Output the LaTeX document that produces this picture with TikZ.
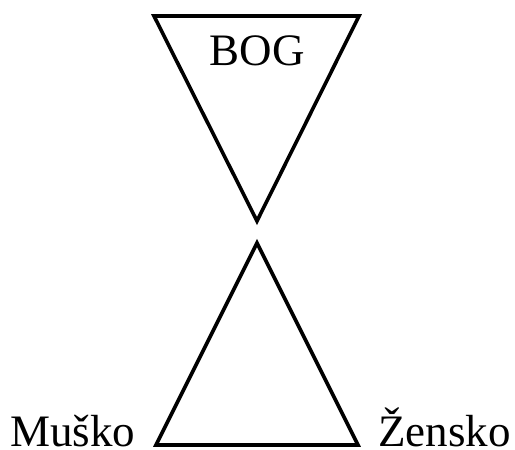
\documentclass[tikz,border=0pt]{standalone}
\usepackage{fontspec}
\setmainfont{Liberation Serif}
\begin{document}
\begin{tikzpicture}[x=1pt,y=-1pt,
  tri/.style={draw=black,line width=3.6pt,line join=miter},
  lbl/.style={font=\fontsize{45}{50}\selectfont,inner sep=0pt,text depth=0pt}]
\useasboundingbox (0,0) rectangle (515,450);
% top inverted triangle
\coordinate (tl) at (154,16);
\coordinate (tr) at (359,16);
\coordinate (ta) at (257,221);
\draw[tri] (tl) -- (tr) -- (ta) -- cycle;
% bottom triangle
\coordinate (ba) at (257,243);
\coordinate (bl) at (156,445);
\coordinate (br) at (358,445);
\draw[tri] (ba) -- (br) -- (bl) -- cycle;
% labels
\node[lbl,anchor=base] (bog) at (257,65) {BOG};
\node[lbl,anchor=base west] (musko) at (10,446) {Muško};
\node[lbl,anchor=base west] (zensko) at (378,446) {Žensko};
\end{tikzpicture}
\end{document}
